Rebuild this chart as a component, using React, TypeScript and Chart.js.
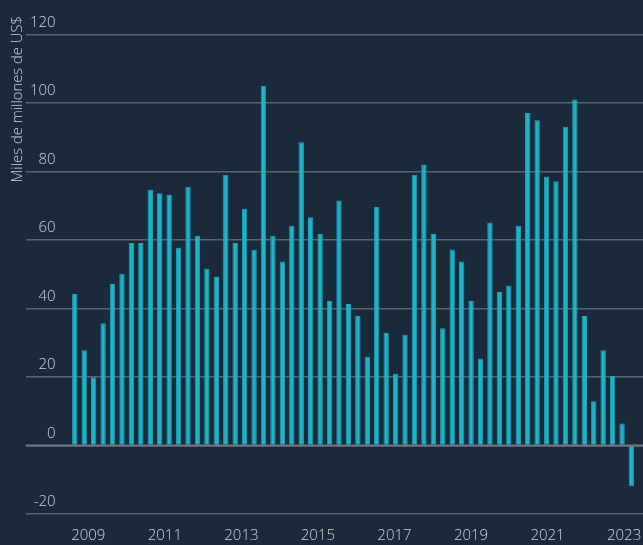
import React, { useEffect, useRef } from "react";
import { Chart, registerables } from "chart.js";

Chart.register(...registerables);

// ---- data ----
const START_YEAR = 2008;
const START_QUARTER = 3;
const VALUES: number[] = [
  44.2, 27.8, 19.9, 35.7, 47.2, 50.1, 59.1, 59.1, 74.6, 73.6,
  73.1, 57.7, 75.5, 61.2, 51.6, 49.2, 79.0, 59.1, 69.1, 57.1,
  104.9, 61.2, 53.7, 64.1, 88.5, 66.6, 61.7, 42.2, 71.5, 41.3,
  37.8, 25.9, 69.6, 32.8, 20.9, 32.3, 79.0, 82.0, 61.7, 34.2,
  57.2, 53.7, 42.2, 25.4, 65.1, 44.8, 46.7, 64.1, 97.0, 94.9,
  78.5, 77.1, 93.0, 101.0, 37.8, 12.9, 27.8, 20.3, 6.4, -11.9,
];
const YEAR_TICKS: number[] = [2009, 2011, 2013, 2015, 2017, 2019, 2021, 2023];
const Y_MIN = -20;
const Y_MAX = 120;
const Y_STEP = 20;
const Y_TITLE = "Miles de millones de US$";

const PERIODS: string[] = VALUES.map((_, i) => {
  const q = START_QUARTER - 1 + i;
  return `${START_YEAR + Math.floor(q / 4)}-T${(q % 4) + 1}`;
});

// ---- style ----
const BG = "#1a2a3a";
const BAR = "#1fb3c8";
const BAR_EDGE = "#1ca3b9";
const GRID = "#5a6570";
const ZERO = "#6f7983";
const TEXT = "#d0d4d8";
const FONT = '"Open Sans", "Noto Sans", sans-serif';

export default function App() {
  const ref = useRef<HTMLCanvasElement | null>(null);

  useEffect(() => {
    document.body.style.margin = "0";
    document.body.style.background = BG;
    const canvas = ref.current;
    if (!canvas) return;

    const bgPlugin = {
      id: "bg",
      beforeDraw(chart: any) {
        const { ctx, width, height } = chart;
        ctx.save();
        ctx.fillStyle = BG;
        ctx.fillRect(0, 0, width, height);
        ctx.restore();
      },
    };

    const zeroPlugin = {
      id: "zero",
      afterDatasetsDraw(chart: any) {
        const { ctx, chartArea } = chart;
        const y = chart.scales.y.getPixelForValue(0);
        ctx.save();
        ctx.strokeStyle = ZERO;
        ctx.lineWidth = 2;
        ctx.beginPath();
        ctx.moveTo(chartArea.left, y);
        ctx.lineTo(chartArea.right, y);
        ctx.stroke();
        ctx.restore();
      },
    };

    const titlePlugin = {
      id: "ytitle",
      afterDraw(chart: any) {
        const { ctx } = chart;
        ctx.save();
        ctx.translate(21.5, 16);
        ctx.rotate(-Math.PI / 2);
        ctx.textAlign = "right";
        ctx.textBaseline = "alphabetic";
        ctx.fillStyle = TEXT;
        ctx.font = `300 14.8px ${FONT}`;
        ctx.fillText(Y_TITLE, 0, 0);
        ctx.restore();
      },
    };

    const chart = new Chart(canvas, {
      type: "bar",
      data: {
        labels: PERIODS,
        datasets: [
          {
            label: "Flujos",
            data: VALUES.map((v, i) => ({ x: i, y: v })) as any,
            backgroundColor: BAR,
            borderColor: BAR_EDGE,
            borderWidth: 1,
            barPercentage: 0.57,
            categoryPercentage: 1,
            xAxisID: "x",
            yAxisID: "y",
          },
        ],
      },
      options: {
        responsive: false,
        animation: false,
        devicePixelRatio: 1,
        layout: { padding: { left: 18, top: 34.3, right: 0, bottom: 0 } },
        plugins: { legend: { display: false }, tooltip: { enabled: false } },
        scales: {
          x: {
            type: "linear",
            display: false,
            min: -5.172,
            max: 60.219,
            offset: false,
          },
          xYears: {
            type: "linear",
            axis: "x",
            position: "bottom",
            min: 2007.372,
            max: 2023.494,
            offset: false,
            afterBuildTicks: (s: any) => {
              s.ticks = YEAR_TICKS.map((v) => ({ value: v }));
            },
            grid: {
              display: true,
              drawOnChartArea: false,
              drawTicks: true,
              tickLength: 13,
              tickColor: "rgba(0,0,0,0)",
              color: "rgba(0,0,0,0)",
            },
            border: { display: false },
            ticks: {
              padding: 0,
              autoSkip: false,
              maxRotation: 0,
              minRotation: 0,
              color: TEXT,
              font: { family: FONT, size: 15, weight: "300" as any },
              callback: (v: any) => String(v),
            },
          } as any,
          y: {
            type: "linear",
            position: "left",
            min: Y_MIN,
            max: Y_MAX,
            border: { display: false },
            grid: { color: GRID, lineWidth: 1.5, drawTicks: false },
            ticks: {
              stepSize: Y_STEP,
              mirror: true,
              crossAlign: "far",
              padding: 4,
              labelOffset: -12,
              color: TEXT,
              font: { family: FONT, size: 15, weight: "300" as any },
            },
          },
        },
      },
      plugins: [bgPlugin, zeroPlugin, titlePlugin],
    });

    return () => chart.destroy();
  }, []);

  return (
    <div style={{ width: 643, height: 545 }}>
      <canvas ref={ref} width={643} height={545} style={{ display: "block" }} />
    </div>
  );
}
